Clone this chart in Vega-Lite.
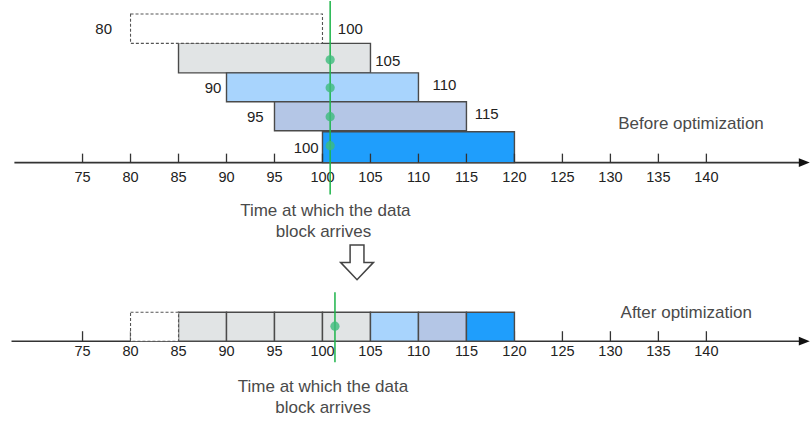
{
  "$schema": "https://vega.github.io/schema/vega-lite/v6.json",
  "width": 811,
  "height": 421,
  "autosize": {"type": "fit", "contains": "padding"},
  "padding": 0,
  "config": {"view": {"stroke": null}, "font": "Liberation Sans"},
  "datasets": {
    "blocks": [
      {"stage": "before", "start": 80, "end": 100, "y1": 13, "y2": 42.5, "kind": "pending"},
      {"stage": "before", "start": 85, "end": 105, "y1": 42.5, "y2": 72, "kind": "gray"},
      {"stage": "before", "start": 90, "end": 110, "y1": 72, "y2": 101, "kind": "light"},
      {"stage": "before", "start": 95, "end": 115, "y1": 101, "y2": 130, "kind": "lavender"},
      {"stage": "before", "start": 100, "end": 120, "y1": 131, "y2": 162, "kind": "blue"},
      {"stage": "after", "start": 80, "end": 85, "y1": 312, "y2": 341, "kind": "pending"},
      {"stage": "after", "start": 85, "end": 90, "y1": 312, "y2": 341, "kind": "gray"},
      {"stage": "after", "start": 90, "end": 95, "y1": 312, "y2": 341, "kind": "gray"},
      {"stage": "after", "start": 95, "end": 100, "y1": 312, "y2": 341, "kind": "gray"},
      {"stage": "after", "start": 100, "end": 105, "y1": 312, "y2": 341, "kind": "gray"},
      {"stage": "after", "start": 105, "end": 110, "y1": 312, "y2": 341, "kind": "light"},
      {"stage": "after", "start": 110, "end": 115, "y1": 312, "y2": 341, "kind": "lavender"},
      {"stage": "after", "start": 115, "end": 120, "y1": 312, "y2": 341, "kind": "blue"}
    ],
    "ticks": [
      {"v": 75}, {"v": 80}, {"v": 85}, {"v": 90}, {"v": 95}, {"v": 100}, {"v": 105},
      {"v": 110}, {"v": 115}, {"v": 120}, {"v": 125}, {"v": 130}, {"v": 135}, {"v": 140}
    ],
    "axes": [
      {"stage": "before", "from": 67.9, "to": 150.2, "lv": 162},
      {"stage": "after", "from": 67.6, "to": 150.2, "lv": 341}
    ],
    "arrival": [
      {"stage": "before", "t": 100.8, "y1": 0, "y2": 194},
      {"stage": "after", "t": 101.3, "y1": 292, "y2": 362}
    ],
    "dots": [
      {"t": 100.8, "lv": 59}, {"t": 100.8, "lv": 87}, {"t": 100.8, "lv": 116},
      {"t": 100.8, "lv": 145}, {"t": 101.3, "lv": 326}
    ],
    "barLabels": [
      {"txt": "80", "pos": 77.2, "lv": 28},
      {"txt": "100", "pos": 102.9, "lv": 28},
      {"txt": "105", "pos": 106.8, "lv": 60},
      {"txt": "110", "pos": 112.7, "lv": 84},
      {"txt": "115", "pos": 117.1, "lv": 113},
      {"txt": "90", "pos": 88.6, "lv": 87},
      {"txt": "95", "pos": 93.0, "lv": 116},
      {"txt": "100", "pos": 98.3, "lv": 147}
    ],
    "captions": [
      {"txt": "Before optimization", "pos": 138.4, "lv": 123},
      {"txt": "After optimization", "pos": 137.9, "lv": 313},
      {"txt": "Time at which the data", "pos": 100.3, "lv": 210},
      {"txt": "block arrives", "pos": 100.1, "lv": 232},
      {"txt": "Time at which the data", "pos": 100.05, "lv": 387},
      {"txt": "block arrives", "pos": 100.05, "lv": 408}
    ],
    "transition": [
      {"pos": 103.6, "lv": 262}
    ]
  },
  "layer": [
    {
      "data": {"name": "axes"},
      "mark": {"type": "rule", "color": "#333333", "strokeWidth": 1.6},
      "encoding": {
        "x": {"field": "from", "type": "quantitative", "scale": {"domain": [66.4, 150.9], "nice": false, "zero": false}, "axis": null},
        "x2": {"field": "to"},
        "y": {"field": "lv", "type": "quantitative", "scale": {"domain": [0, 421], "reverse": true, "nice": false, "zero": false}, "axis": null}
      }
    },
    {
      "data": {"name": "axes"},
      "mark": {"type": "point", "shape": "M-1,-0.8L1,0L-1,0.8Z", "filled": true, "color": "#111111", "opacity": 1, "size": 120},
      "encoding": {
        "x": {"field": "to", "type": "quantitative"},
        "y": {"field": "lv", "type": "quantitative"}
      }
    },
    {
      "data": {"name": "ticks"},
      "mark": {"type": "rule", "color": "#333333", "strokeWidth": 1.3},
      "encoding": {
        "x": {"field": "v", "type": "quantitative"},
        "y": {"datum": 331},
        "y2": {"datum": 341}
      }
    },
    {
      "data": {"name": "blocks"},
      "transform": [{"filter": "datum.kind != 'pending'"}],
      "mark": {"type": "rect", "stroke": "#4a4a4a", "strokeWidth": 1.4},
      "encoding": {
        "x": {"field": "start", "type": "quantitative"},
        "x2": {"field": "end"},
        "y": {"field": "y1", "type": "quantitative"},
        "y2": {"field": "y2"},
        "fill": {"field": "kind", "type": "nominal", "legend": null,
          "scale": {"domain": ["pending", "gray", "light", "lavender", "blue"],
                    "range": ["#ffffff", "#e1e4e5", "#a8d4fd", "#b4c6e6", "#1f9efc"]}}
      }
    },
    {
      "data": {"name": "blocks"},
      "transform": [{"filter": "datum.kind == 'pending'"}],
      "mark": {"type": "rect", "fill": "#ffffff", "stroke": "#555555", "strokeWidth": 1.1, "strokeDash": [3, 2]},
      "encoding": {
        "x": {"field": "start", "type": "quantitative"},
        "x2": {"field": "end"},
        "y": {"field": "y1", "type": "quantitative"},
        "y2": {"field": "y2"}
      }
    },
    {
      "data": {"name": "ticks"},
      "mark": {"type": "rule", "color": "#333333", "strokeWidth": 1.3},
      "encoding": {
        "x": {"field": "v", "type": "quantitative"},
        "y": {"datum": 153},
        "y2": {"datum": 162}
      }
    },
    {
      "data": {"name": "ticks"},
      "mark": {"type": "text", "fontSize": 14.5, "color": "#222222", "baseline": "middle", "align": "center"},
      "encoding": {
        "x": {"field": "v", "type": "quantitative"},
        "y": {"datum": 177},
        "text": {"field": "v", "type": "nominal"}
      }
    },
    {
      "data": {"name": "ticks"},
      "mark": {"type": "text", "fontSize": 14.5, "color": "#222222", "baseline": "middle", "align": "center"},
      "encoding": {
        "x": {"field": "v", "type": "quantitative"},
        "y": {"datum": 352},
        "text": {"field": "v", "type": "nominal"}
      }
    },
    {
      "data": {"name": "arrival"},
      "mark": {"type": "rule", "color": "#1db44a", "strokeWidth": 1.5},
      "encoding": {
        "x": {"field": "t", "type": "quantitative"},
        "y": {"field": "y1", "type": "quantitative"},
        "y2": {"field": "y2"}
      }
    },
    {
      "data": {"name": "dots"},
      "mark": {"type": "circle", "color": "#3dbb7c", "opacity": 0.8, "size": 85},
      "encoding": {
        "x": {"field": "t", "type": "quantitative"},
        "y": {"field": "lv", "type": "quantitative"}
      }
    },
    {
      "data": {"name": "barLabels"},
      "mark": {"type": "text", "fontSize": 15, "color": "#222222", "baseline": "middle", "align": "center"},
      "encoding": {
        "x": {"field": "pos", "type": "quantitative"},
        "y": {"field": "lv", "type": "quantitative"},
        "text": {"field": "txt", "type": "nominal"}
      }
    },
    {
      "data": {"name": "captions"},
      "mark": {"type": "text", "fontSize": 17, "color": "#4a4a4a", "baseline": "middle", "align": "center"},
      "encoding": {
        "x": {"field": "pos", "type": "quantitative"},
        "y": {"field": "lv", "type": "quantitative"},
        "text": {"field": "txt", "type": "nominal"}
      }
    },
    {
      "data": {"name": "transition"},
      "mark": {"type": "point", "shape": "M-0.4,-1L0.4,-1L0.4,0L0.95,0L0,1L-0.95,0L-0.4,0Z", "filled": true, "fill": "#ffffff", "stroke": "#444444", "strokeWidth": 1.5, "opacity": 1, "size": 1200},
      "encoding": {
        "x": {"field": "pos", "type": "quantitative"},
        "y": {"field": "lv", "type": "quantitative"}
      }
    }
  ]
}
